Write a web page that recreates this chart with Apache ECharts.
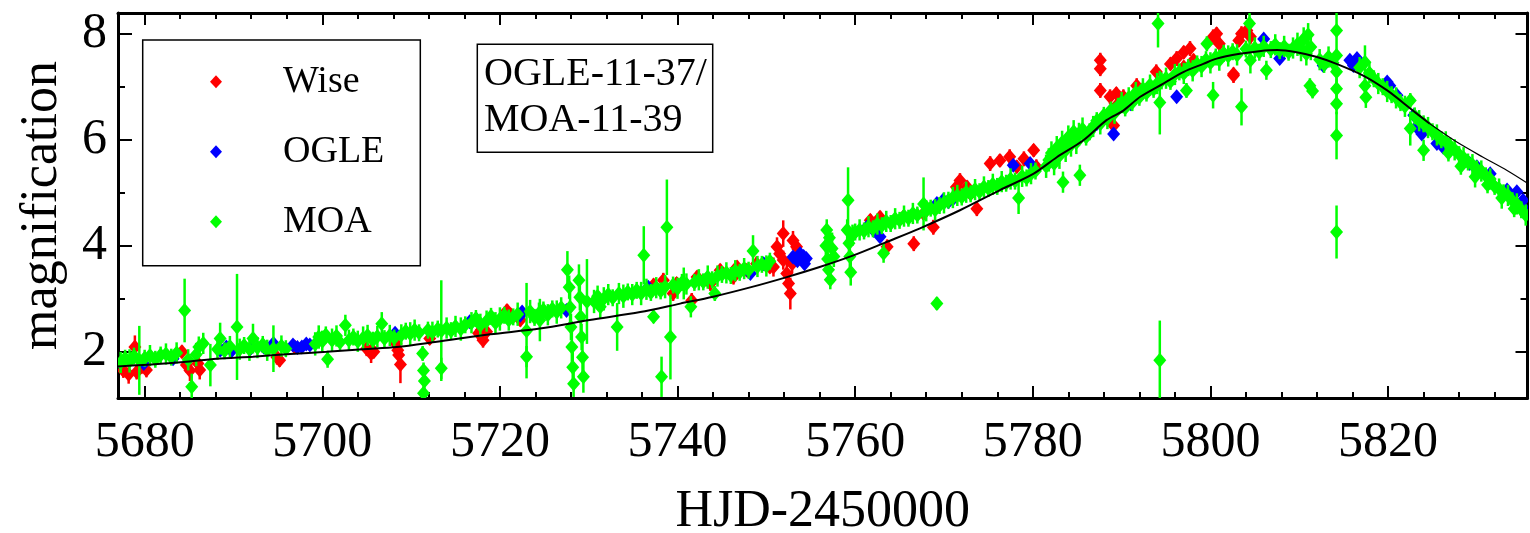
<!DOCTYPE html>
<html>
<head>
<meta charset="utf-8">
<script src="https://cdn.jsdelivr.net/npm/echarts@6/dist/echarts.min.js"></script>
<style>html,body{margin:0;padding:0;background:#fff}#c{width:1530px;height:533px}</style>
</head>
<body>
<div id="c"></div>
<script>
// ---- data: [HJD-2450000, magnification, error] ----
const wise = [
[5677.6,1.65,0.14],[5678.2,1.58,0.18],[5678.9,2.09,0.22],[5679.1,1.62,0.14],[5679.7,1.72,0.12],[5680.2,1.66,0.14],
[5684.2,2.0,0.12],[5684.7,1.75,0.14],[5685.1,1.65,0.2],[5686.0,1.78,0.14],[5686.2,1.66,0.18],
[5694.9,1.90,0.14],[5695.2,1.84,0.12],[5696.9,2.09,0.12],
[5705.0,2.06,0.14],[5705.5,1.97,0.18],[5705.8,2.0,0.12],[5708.3,2.16,0.14],[5708.6,1.94,0.18],[5708.8,1.76,0.35],[5708.5,2.03,0.12],
[5712.1,2.25,0.12],
[5717.6,2.35,0.14],[5717.9,2.41,0.12],[5718.1,2.22,0.14],[5718.5,2.38,0.12],
[5720.8,2.78,0.12],[5721.2,2.69,0.14],[5722.3,2.6,0.12],
[5737.3,3.26,0.12],[5738.4,3.35,0.14],[5739.5,3.10,0.14],[5739.9,3.29,0.12],
[5741.6,2.97,0.14],[5742.2,3.41,0.12],[5743.7,3.29,0.14],[5744.8,3.54,0.12],[5746.3,3.41,0.14],[5746.7,3.60,0.12],[5747.8,3.54,0.12],[5748.9,3.66,0.14],[5750.4,3.60,0.12],
[5750.8,3.60,0.18],[5751.2,3.98,0.18],[5751.5,3.85,0.14],[5751.9,4.23,0.25],[5751.9,3.73,0.18],[5752.3,3.48,0.2],[5752.5,3.29,0.2],[5752.7,3.10,0.3],[5753.0,4.10,0.18],[5753.4,3.98,0.14],[5752.9,3.66,0.18],
[5761.7,4.48,0.12],[5762.8,4.54,0.12],[5763.6,3.98,0.14],[5765.4,4.54,0.12],[5766.6,4.04,0.14],[5767.7,4.61,0.12],[5768.8,4.35,0.14],[5771.4,5.11,0.14],[5771.6,4.98,0.12],
[5771.8,5.23,0.14],[5772.6,5.11,0.12],[5773.0,4.98,0.12],[5773.7,4.70,0.14],
[5775.2,5.55,0.14],[5776.3,5.61,0.12],[5777.4,5.68,0.14],[5778.2,5.49,0.12],[5779.0,5.64,0.14],[5780.1,5.80,0.12],[5780.4,5.49,0.14],
[5787.6,7.50,0.14],[5787.6,7.34,0.14],[5787.6,6.93,0.14],
[5788.7,6.81,0.14],[5789.4,6.87,0.12],[5790.2,6.81,0.14],[5789.6,6.68,0.12],[5789.1,6.27,0.14],
[5791.7,7.02,0.14],[5793.9,7.28,0.14],
[5795.5,7.43,0.12],[5796.2,7.53,0.14],[5797.0,7.65,0.12],[5797.7,7.72,0.14],[5798.1,7.50,0.12],[5797.0,7.37,0.12],
[5800.3,7.94,0.14],[5800.7,8.0,0.12],[5801.0,7.81,0.14],
[5802.6,7.21,0.14],[5802.6,7.24,0.12],[5803.5,8.0,0.14],[5804.1,8.06,0.12],[5804.5,7.94,0.14],[5803.2,7.87,0.12]
];
const ogle = [
[5676.5,1.73,0.05],[5679.9,1.78,0.05],[5683.2,1.87,0.05],[5688.5,2.03,0.05],[5689.2,2.09,0.05],[5689.8,2.02,0.05],[5691.9,2.06,0.05],[5693.4,2.09,0.05],[5694.5,2.16,0.05],[5696.7,2.13,0.05],[5697.2,2.08,0.05],[5697.7,2.09,0.05],[5698.2,2.15,0.05],[5698.6,2.13,0.05],
[5708.2,2.35,0.05],[5716.6,2.57,0.05],[5717.4,2.60,0.05],[5722.3,2.69,0.05],[5722.5,2.75,0.05],[5727.5,2.78,0.05],[5736.7,3.22,0.05],
[5748.2,3.48,0.05],[5749.7,3.66,0.05],[5753.0,3.79,0.05],[5753.5,3.72,0.05],[5753.8,3.85,0.05],[5754.2,3.80,0.05],[5754.5,3.76,0.05],[5754.3,3.66,0.05],
[5761.3,4.35,0.05],[5762.1,4.29,0.05],[5762.8,4.17,0.05],
[5769.2,4.80,0.05],[5769.9,4.86,0.05],[5770.5,4.83,0.05],[5771.1,4.90,0.05],
[5777.8,5.52,0.05],[5779.7,5.55,0.05],
[5787.2,6.30,0.05],[5788.0,6.40,0.05],[5788.7,6.46,0.05],[5789.1,6.11,0.05],[5791.0,6.68,0.05],[5796.2,6.81,0.05],
[5806.0,7.90,0.05],[5807.8,7.53,0.05],[5812.7,7.40,0.05],[5815.7,7.50,0.05],[5816.1,7.40,0.05],[5816.5,7.53,0.05],
[5819.9,7.09,0.05],[5820.2,7.02,0.05],[5821.0,6.84,0.05],[5822.9,6.46,0.05],[5823.2,6.24,0.05],[5823.8,6.11,0.05],[5825.5,5.93,0.05],[5826.2,5.86,0.05],[5829.2,5.55,0.05],[5830.0,5.49,0.05],[5831.5,5.36,0.05],[5833.4,5.05,0.05],[5834.5,5.02,0.05],[5835.2,4.86,0.05],[5835.5,4.67,0.05]
];
const moa = [
[5677.3,1.80,0.2],[5677.8,1.88,0.16],[5678.3,1.83,0.22],[5678.8,1.92,0.16],[5679.4,1.84,0.65],[5680.0,1.88,0.16],[5680.6,1.93,0.2],[5681.2,1.86,0.16],[5681.8,1.94,0.16],[5682.4,1.96,0.2],[5683.0,1.90,0.16],[5683.6,1.98,0.2],
[5684.5,2.78,0.60],[5684.9,1.85,0.2],[5685.3,1.34,0.25],[5685.8,1.95,0.22],[5686.1,2.09,0.2],[5686.6,2.16,0.2],[5687.4,1.75,0.40],
[5688.2,2.05,0.2],[5688.5,2.25,0.3],[5689.0,2.02,0.16],[5689.6,2.10,0.2],[5690.4,2.47,1.0],[5690.7,2.05,0.2],[5691.2,2.12,0.16],[5691.8,2.05,0.22],[5692.2,2.25,0.28],[5692.7,2.08,0.2],[5693.3,2.14,0.16],[5693.8,2.03,0.2],[5694.5,2.06,0.44],[5695.4,2.11,0.2],[5695.9,2.06,0.16],
[5699.2,2.15,0.22],[5699.6,2.28,0.22],[5700.0,2.20,0.2],[5700.4,2.32,0.16],[5700.6,1.86,0.16],[5701.1,2.22,0.22],[5701.6,2.30,0.2],[5702.0,2.18,0.16],[5702.6,2.50,0.2],[5703.0,2.22,0.2],[5703.5,2.28,0.16],[5704.0,2.20,0.2],[5704.6,2.26,0.22],[5705.1,2.31,0.2],[5705.7,2.22,0.16],[5706.2,2.29,0.2],[5706.7,2.53,0.22],[5707.0,2.25,0.16],[5707.6,2.31,0.2],[5708.1,2.26,0.16],
[5708.9,2.32,0.2],[5709.4,2.39,0.16],[5709.9,2.34,0.22],[5710.4,2.41,0.2],[5710.9,2.36,0.16],[5711.3,1.97,0.14],[5711.4,1.65,0.15],[5711.5,1.45,0.15],[5711.4,1.22,0.15],[5711.9,2.41,0.16],[5712.4,2.37,0.2],[5713.0,2.43,0.16],[5713.4,2.40,0.95],[5713.4,1.69,0.2],[5714.0,2.45,0.2],[5714.5,2.40,0.16],[5715.0,2.48,0.2],[5715.6,2.43,0.22],[5716.1,2.51,0.16],
[5716.8,2.55,0.2],[5717.3,2.63,0.16],[5717.8,2.50,0.22],[5718.5,2.58,0.2],[5719.0,2.67,0.16],[5719.5,2.55,0.2],[5720.0,2.62,0.22],[5720.5,2.69,0.16],[5721.0,2.60,0.2],[5721.5,2.66,0.16],[5722.0,2.71,0.22],[5723.0,2.40,0.9],[5723.0,1.91,0.2],[5723.4,2.76,0.22],[5723.9,2.65,0.16],[5724.5,2.60,0.4],[5724.4,2.73,0.2],[5724.9,2.79,0.16],[5725.4,2.70,0.2],[5725.9,2.81,0.16],[5726.4,2.75,0.22],[5726.9,2.83,0.2],
[5727.6,3.55,0.35],[5727.8,3.22,0.22],[5727.9,2.84,0.3],[5728.0,2.47,0.25],[5728.1,2.09,0.3],[5728.2,1.71,0.3],[5728.3,1.40,0.25],[5728.9,3.35,0.3],[5729.0,3.03,0.25],[5729.1,2.66,0.3],[5729.2,2.28,0.25],[5729.3,1.90,0.3],[5729.4,1.53,0.3],[5729.8,2.95,0.8],
[5730.6,2.95,0.22],[5731.0,3.05,0.2],[5731.3,2.85,0.22],[5731.7,3.0,0.22],[5732.2,3.08,0.2],[5732.7,3.02,0.16],[5733.2,2.47,0.45],[5733.4,3.10,0.2],[5733.9,3.05,0.22],[5734.4,3.13,0.16],[5734.9,3.08,0.2],[5735.4,3.16,0.16],[5735.9,3.10,0.22],[5736.2,3.82,0.55],[5736.5,3.18,0.2],[5737.0,3.12,0.16],[5737.3,2.66,0.12],[5737.6,3.21,0.2],[5738.1,3.15,0.16],[5738.2,1.53,0.38],[5738.6,3.23,0.22],[5738.8,4.35,0.9],[5739.2,2.28,0.8],[5739.5,3.26,0.16],[5740.0,3.20,0.2],[5740.5,3.31,0.16],[5740.7,3.29,0.3],[5741.0,3.28,0.2],[5741.5,2.85,0.2],[5741.9,3.31,0.16],[5742.4,3.36,0.2],[5742.9,3.32,0.16],[5743.4,3.41,0.22],[5743.9,3.36,0.16],[5744.2,3.10,0.14],[5744.5,3.43,0.2],[5745.0,3.46,0.16],[5745.5,3.49,0.2],[5746.0,3.44,0.16],[5746.5,3.53,0.2],[5747.0,3.50,0.16],[5747.5,3.57,0.2],[5748.0,3.54,0.16],[5748.5,3.90,0.3],[5749.0,3.61,0.2],[5749.5,3.65,0.16],[5750.0,3.62,0.2],[5750.4,3.71,0.16],
[5756.7,4.0,0.22],[5756.8,4.30,0.2],[5756.9,3.75,0.2],[5757.0,3.55,0.22],[5757.1,4.15,0.2],[5757.2,3.36,0.18],[5757.4,3.95,0.3],[5757.6,3.80,0.2],
[5759.1,4.30,0.2],[5759.2,4.86,0.62],[5759.3,4.05,0.2],[5759.4,3.80,0.2],[5759.5,3.50,0.25],[5759.7,4.20,0.2],[5760.0,4.26,0.16],
[5760.5,4.30,0.2],[5761.0,4.28,0.16],[5761.5,4.36,0.2],[5762.0,4.32,0.16],[5762.5,4.41,0.2],[5763.0,4.38,0.16],[5763.2,3.86,0.18],[5763.5,4.46,0.2],[5764.0,4.42,0.16],[5764.5,4.51,0.2],[5765.0,4.48,0.16],[5765.5,4.56,0.2],[5766.0,4.52,0.16],[5766.5,4.61,0.2],[5767.0,4.58,0.16],[5767.7,4.79,0.5],[5768.0,4.66,0.2],[5768.5,4.71,0.16],[5769.0,4.68,0.2],[5769.2,2.91,0.12],[5769.5,4.76,0.16],[5770.0,4.81,0.2],[5770.5,4.86,0.16],[5771.0,4.91,0.2],
[5771.5,4.95,0.2],[5772.0,4.92,0.16],[5772.5,5.01,0.2],[5773.0,4.98,0.16],[5773.5,5.06,0.2],[5774.0,5.02,0.16],[5774.5,5.11,0.2],[5775.0,5.08,0.16],[5775.5,5.16,0.2],[5776.0,5.12,0.16],[5776.5,5.21,0.2],[5777.0,5.18,0.16],[5777.5,5.26,0.2],[5778.0,5.22,0.16],[5778.4,4.90,0.3],[5778.8,5.31,0.2],[5779.3,5.28,0.16],[5779.8,5.36,0.2],[5780.3,5.41,0.16],
[5781.5,5.50,0.22],[5781.8,5.62,0.22],[5782.1,5.75,0.22],[5782.4,5.55,0.22],[5782.7,5.85,0.22],[5783.0,5.70,0.25],[5783.3,5.95,0.22],[5783.4,5.20,0.2],[5783.7,5.80,0.22],[5784.0,6.05,0.22],[5784.3,5.90,0.22],[5784.6,6.15,0.22],[5784.9,5.95,0.22],[5785.2,6.10,0.22],[5785.3,5.33,0.2],[5785.6,6.20,0.22],[5786.0,6.05,0.16],[5786.4,6.15,0.16],
[5786.8,6.25,0.2],[5787.2,6.36,0.16],[5787.6,6.30,0.2],[5788.0,6.46,0.16],[5788.4,6.40,0.2],[5788.8,6.56,0.16],[5789.2,6.50,0.2],[5789.6,6.63,0.16],
[5790.0,6.70,0.2],[5790.4,6.60,0.16],[5790.8,6.79,0.2],[5791.2,6.70,0.16],[5791.6,6.89,0.2],[5792.0,6.80,0.16],[5792.4,6.96,0.2],[5792.8,6.88,0.16],[5793.2,7.03,0.2],[5793.6,6.95,0.16],
[5794.0,7.06,0.2],[5794.1,8.19,0.45],[5794.3,1.84,0.75],[5794.3,6.70,0.6],[5794.5,7.11,0.16],[5795.0,7.16,0.2],[5795.5,7.10,0.16],[5796.0,7.23,0.2],[5796.5,7.28,0.16],[5797.0,7.25,0.2],[5797.3,6.93,0.14],[5797.5,7.36,0.16],[5798.0,7.30,0.2],[5798.5,7.43,0.16],[5799.0,7.38,0.2],[5799.5,7.51,0.16],[5799.6,7.81,0.14],[5800.0,7.45,0.2],[5800.3,6.84,0.25],[5800.6,7.56,0.16],[5801.0,7.50,0.2],[5801.5,7.63,0.16],[5802.0,7.58,0.2],[5802.5,7.66,0.16],
[5803.0,7.60,0.2],[5803.5,6.62,0.35],[5804.0,7.71,0.16],[5804.4,8.19,0.6],[5804.5,7.50,0.25],[5805.0,7.73,0.2],[5805.5,7.65,0.16],[5806.0,7.76,0.2],[5806.3,7.31,0.18],[5806.8,7.70,0.16],[5807.3,7.79,0.2],[5807.8,7.68,0.16],[5808.3,7.76,0.2],[5808.8,7.65,0.16],[5809.3,7.73,0.2],[5809.8,7.80,0.22],[5810.2,7.70,0.22],[5810.5,7.90,0.22],[5810.8,7.62,0.22],[5811.0,7.98,0.22],[5811.2,7.02,0.14],[5811.3,7.75,0.25],[5811.5,6.92,0.14],
[5812.3,7.51,0.2],[5812.8,7.42,0.16],[5813.3,7.56,0.2],[5813.8,7.45,0.16],[5814.2,8.06,0.35],[5814.2,7.59,0.12],[5814.2,7.28,0.3],[5814.2,6.96,0.2],[5814.2,6.68,0.2],[5814.2,6.08,0.45],[5814.2,4.26,0.5],
[5816.8,7.36,0.2],[5817.4,7.46,0.32],[5817.4,7.02,0.14],[5817.5,6.80,0.2],[5817.9,7.26,0.2],[5818.4,7.15,0.16],[5818.9,7.06,0.2],[5819.4,7.0,0.16],[5819.9,6.91,0.2],
[5820.4,6.85,0.16],[5820.9,6.79,0.2],[5821.4,6.70,0.16],[5821.9,6.63,0.2],[5822.5,6.74,0.14],[5822.5,6.21,0.32],[5823.0,6.45,0.16],
[5823.5,6.36,0.2],[5824.0,5.80,0.2],[5824.0,6.30,0.16],[5824.5,6.23,0.2],[5825.0,6.15,0.16],[5825.5,6.09,0.2],[5826.0,6.0,0.16],[5826.5,5.96,0.2],[5826.8,5.75,0.16],[5827.0,5.88,0.16],[5827.5,5.81,0.2],[5828.0,5.72,0.16],[5828.2,5.50,0.16],[5828.5,5.66,0.2],[5829.0,5.58,0.16],[5829.5,5.53,0.2],[5829.8,5.30,0.2],[5830.0,5.45,0.16],[5830.5,5.41,0.2],[5831.0,5.32,0.16],[5831.2,5.15,0.16],[5831.5,5.26,0.2],[5832.0,5.12,0.16],[5832.5,5.07,0.2],[5832.8,4.90,0.2],[5833.0,5.0,0.16],[5833.5,4.95,0.2],[5834.0,4.85,0.16],[5834.2,4.70,0.16],[5834.5,4.79,0.2],[5835.0,4.68,0.16],[5835.5,4.58,0.2]
];
// model curves: [HJD-2450000, magnification]
const model = [
[5676.1,1.72],[5679.8,1.75],[5684.4,1.81],[5688.1,1.87],[5692.2,1.91],[5696.4,1.96],[5700.5,2.0],[5704.6,2.05],[5708.4,2.09],
[5712.9,2.19],[5718.9,2.33],[5724.5,2.44],[5730.1,2.60],[5735.8,2.75],[5740.3,2.91],[5744.0,3.04],[5748.5,3.23],[5752.3,3.41],
[5756.0,3.60],[5759.8,3.82],[5763.5,4.07],[5767.3,4.33],[5771.8,4.67],[5776.3,5.05],[5780.1,5.36],[5782.7,5.67],[5785.7,5.99],
[5788.3,6.37],[5790.2,6.55],[5792.1,6.81],[5794.7,7.06],[5797.0,7.28],[5799.2,7.43],[5800.7,7.53],[5803.3,7.62],[5805.5,7.67],
[5807.5,7.69],[5809.7,7.65],[5812.0,7.56],[5814.2,7.43],[5817.2,7.21],[5819.9,6.93],[5822.5,6.59],[5824.7,6.30],
[5827.7,5.96],[5830.7,5.67],[5833.4,5.42],[5835.7,5.18]
];
const modelLow = [[5824.7,6.30],[5827.5,5.85],[5830.5,5.42],[5833.5,5.0],[5835.7,4.6]];

const xMajor = [5680,5700,5720,5740,5760,5780,5800,5820];
const xMinor = [5684,5688,5692,5696,5704,5708,5712,5716,5724,5728,5732,5736,5744,5748,5752,5756,5764,5768,5772,5776,5784,5788,5792,5796,5804,5808,5812,5816,5824,5828,5832];
const yMajor = [2,4,6,8];
const yMinor = [3,5,7];

const FONT = '"Liberation Serif","DejaVu Serif",serif';
const XMIN = 5677, XMAX = 5835.7, YMIN = 1.13, YMAX = 8.39;

function xAx(pos, ticks, len, labels, line) {
  return {
    type:'value', position:pos, min:XMIN, max:XMAX,
    axisLine:{show:line, onZero:false, lineStyle:{color:'#000', width:3}},
    axisTick:{show:true, inside:true, length:len, customValues:ticks, lineStyle:{color:'#000', width:2}},
    axisLabel:{show:labels, customValues:ticks, margin:20, color:'#000', fontSize:50, fontFamily:FONT,
               formatter:(v)=>String(Math.round(v))},
    splitLine:{show:false}
  };
}
function yAx(pos, ticks, len, labels, line) {
  return {
    type:'value', position:pos, min:YMIN, max:YMAX,
    axisLine:{show:line, onZero:false, lineStyle:{color:'#000', width:3}},
    axisTick:{show:true, inside:true, length:len, customValues:ticks, lineStyle:{color:'#000', width:2}},
    axisLabel:{show:labels, customValues:ticks, margin:11, color:'#000', fontSize:50, fontFamily:FONT,
               formatter:(v)=>String(Math.round(v))},
    splitLine:{show:false}
  };
}

const xAxes = [
  Object.assign(xAx('bottom', xMajor, 12, true, true), {name:'HJD-2450000', nameLocation:'middle', nameGap:88,
     nameTextStyle:{color:'#000', fontSize:52, fontFamily:FONT}}),
  xAx('bottom', xMinor, 6, false, false),
  xAx('top', xMajor, 12, false, true),
  xAx('top', xMinor, 6, false, false)
];
const yAxes = [
  Object.assign(yAx('left', yMajor, 14, true, true), {name:'magnification', nameLocation:'middle', nameGap:50,
     nameTextStyle:{color:'#000', fontSize:52, fontFamily:FONT}}),
  yAx('left', yMinor, 7, false, false),
  yAx('right', yMajor, 12, false, true),
  yAx('right', yMinor, 7, false, false)
];

function renderErr(params, api) {
  const t = api.value(0), m = api.value(1), e = api.value(2);
  const c = api.coord([t, m]);
  const lo = api.coord([t, m - e]);
  const hi = api.coord([t, m + e]);
  const color = api.visual('color');
  const hw = 6.5, hh = 7.5;
  return {type:'group', children:[
    {type:'line', shape:{x1:c[0], y1:lo[1], x2:c[0], y2:hi[1]}, style:{stroke:color, lineWidth:2.5}},
    {type:'polygon', shape:{points:[[c[0],c[1]-hh],[c[0]+hw,c[1]],[c[0],c[1]+hh],[c[0]-hw,c[1]]]}, style:{fill:color}}
  ]};
}
function dataSeries(name, data, color, z) {
  return {name, type:'custom', data, renderItem:renderErr, encode:{x:0, y:1}, clip:true,
          itemStyle:{color}, z, xAxisIndex:0, yAxisIndex:0};
}

const chart = echarts.init(document.getElementById('c'), null, {renderer:'canvas'});
chart.setOption({
  animation:false,
  backgroundColor:'#fff',
  grid:{left:118, right:2.5, top:13, bottom:135, containLabel:false, outerBoundsMode:'none'},
  xAxis:xAxes,
  yAxis:yAxes,
  legend:{
    left:142.7, top:40, orient:'vertical',
    padding:[21.7, 36, 24, 67.3],
    itemGap:30, itemWidth:12, itemHeight:13,
    borderColor:'#000', borderWidth:1.5, backgroundColor:'#fff',
    selectedMode:false,
    textStyle:{fontSize:38, fontFamily:FONT, color:'#000', lineHeight:40, padding:[0,0,0,56]},
    data:[{name:'Wise', icon:'diamond'},{name:'OGLE', icon:'diamond'},{name:'MOA', icon:'diamond'}]
  },
  graphic:[
    {type:'rect', shape:{x:477.3, y:44.3, width:235.4, height:108}, style:{fill:'#fff', stroke:'#000', lineWidth:1.5}, z:100},
    {type:'text', x:484, y:74, style:{text:'OGLE-11-37/', fontSize:40, fontFamily:FONT, fill:'#000', verticalAlign:'middle', align:'left'}, z:101},
    {type:'text', x:484, y:120, style:{text:'MOA-11-39', fontSize:40, fontFamily:FONT, fill:'#000', verticalAlign:'middle', align:'left'}, z:101}
  ],
  series:[
    {type:'line', data:modelLow, smooth:0.3, symbol:'none', lineStyle:{color:'#000', width:2}, z:1, silent:true},
    dataSeries('Wise', wise, '#ff0000', 2),
    dataSeries('OGLE', ogle, '#0000ff', 3),
    dataSeries('MOA', moa, '#00ff00', 4),
    {type:'line', data:model.slice(0, 44), smooth:0.3, symbol:'none', lineStyle:{color:'#000', width:2}, z:10, silent:true},
    {type:'line', data:model.slice(43), smooth:0.3, symbol:'none', lineStyle:{color:'#000', width:1.2}, z:10, silent:true}
  ]
});
</script>
</body>
</html>
